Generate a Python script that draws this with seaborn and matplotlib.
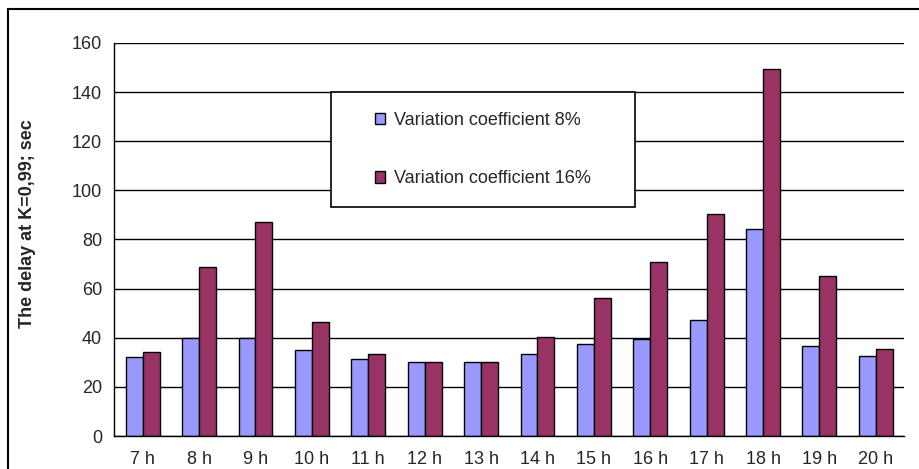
import matplotlib
matplotlib.use("Agg")
import matplotlib.pyplot as plt
import pandas as pd
import seaborn as sns
from matplotlib.patches import Rectangle

hours = ["7 h", "8 h", "9 h", "10 h", "11 h", "12 h", "13 h",
         "14 h", "15 h", "16 h", "17 h", "18 h", "19 h", "20 h"]
cv8 = [32, 40, 40, 35, 31.2, 30, 30, 33.4, 37.6, 39.6, 47.2, 84.1, 36.8, 32.7]
cv16 = [34, 69, 87, 46.5, 33.4, 30, 30, 40.3, 56.3, 71, 90.4, 149.5, 65.3, 35.4]
series = ["Variation coefficient 8%", "Variation coefficient 16%"]
colors = ["#9999FF", "#993366"]

df = pd.DataFrame({
    "hour": hours * 2,
    "delay": cv8 + cv16,
    "series": [series[0]] * len(hours) + [series[1]] * len(hours),
})

sns.set_style("white")
plt.rcParams["font.family"] = ["Liberation Sans", "DejaVu Sans"]
plt.rcParams["font.size"] = 13

fig = plt.figure(figsize=(9.2, 4.69), dpi=100)
ax = fig.add_axes([114.5 / 920, 1 - 436 / 469, (904 - 114.5) / 920, (436 - 43) / 469])

sns.barplot(data=df, x="hour", y="delay", hue="series", order=hours,
            hue_order=series, palette=colors, width=0.6, gap=0,
            edgecolor="black", linewidth=1, saturation=1, ax=ax, zorder=2)

ax.set_xlim(-0.5, len(hours) - 0.5)
ax.set_ylim(0, 160)
ax.set_yticks(range(0, 161, 20))
ax.yaxis.grid(True, color="black", linewidth=1)
ax.set_axisbelow(True)
for side in ["top", "right"]:
    ax.spines[side].set_visible(False)
for side in ["left", "bottom"]:
    ax.spines[side].set_color("black")
    ax.spines[side].set_linewidth(1)

# x tick marks sit between categories, labels sit in the middle
ax.set_xticks([i - 0.5 for i in range(len(hours) + 1)], minor=True)
ax.tick_params(axis="x", which="major", length=0, pad=11, labelsize=13)
ax.tick_params(axis="x", which="minor", length=5, width=1, color="black", direction="out")
ax.tick_params(axis="y", length=5, width=1, color="black", direction="out", pad=4, labelsize=13)
ax.set_xlabel("")
ax.set_ylabel("The delay at K=0,99; sec", fontweight="bold", fontsize=13)
ax.yaxis.set_label_coords((36 - 114.5) / 789.5, (436 - 224) / 393)

# legend box
box = Rectangle((331 / 920, 1 - 207 / 469), 304 / 920, 115 / 469,
                transform=fig.transFigure, facecolor="white", edgecolor="black",
                linewidth=1.2, zorder=3)
ax.add_patch(box)
handles, labels = ax.get_legend_handles_labels()
leg = ax.legend(handles, labels, loc="center",
                bbox_to_anchor=(483 / 920, 1 - 149.5 / 469),
                bbox_transform=fig.transFigure, frameon=False, fontsize=13,
                handlelength=0.6, handleheight=0.6, handletextpad=0.5,
                labelspacing=2.3)
leg.set_zorder(4)

# outer chart frame
fig.patches.append(Rectangle((8 / 920, -0.05), 1.1, 1 - 9 / 469 + 0.05,
                             transform=fig.transFigure, fill=False,
                             edgecolor="black", linewidth=1.5))

fig.savefig("out.png", dpi=100)
plt.close(fig)
